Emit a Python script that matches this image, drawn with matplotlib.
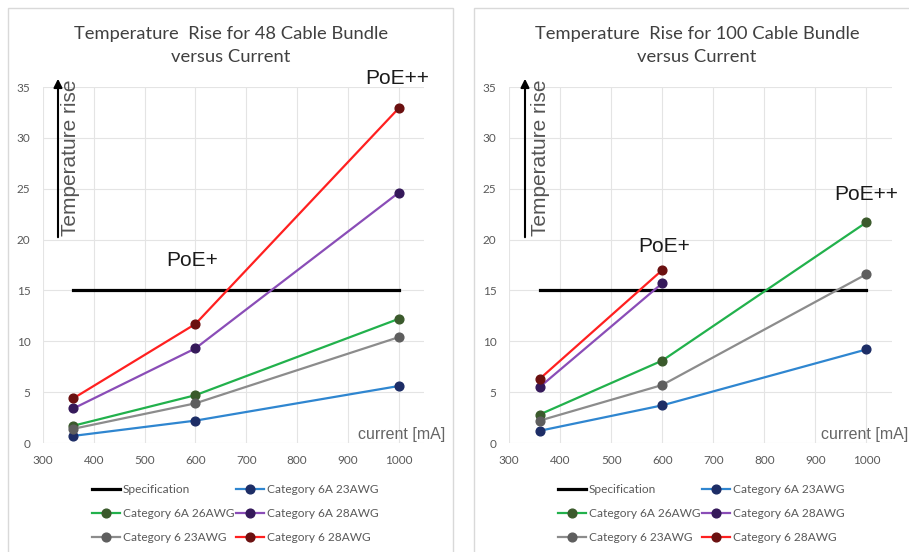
import matplotlib
matplotlib.use("Agg")
import matplotlib.pyplot as plt
from matplotlib.patches import Rectangle, FancyArrowPatch

# ---------------- data ----------------
currents = [360, 600, 1000]
spec_x = [360, 1000]
spec_y = [15, 15]

series_names = ["Category 6A 23AWG", "Category 6A 26AWG", "Category 6A 28AWG",
                "Category 6 23AWG", "Category 6 28AWG"]

b48_cat6a_23 = [0.7, 2.2, 5.6]
b48_cat6a_26 = [1.7, 4.7, 12.2]
b48_cat6a_28 = [3.4, 9.3, 24.6]
b48_cat6_23 = [1.4, 3.9, 10.4]
b48_cat6_28 = [4.4, 11.7, 32.9]

b100_cat6a_23 = [1.2, 3.7, 9.2]
b100_cat6a_26 = [2.8, 8.1, 21.7]
b100_cat6a_28 = [5.5, 15.7]
b100_cat6_23 = [2.2, 5.7, 16.6]
b100_cat6_28 = [6.3, 17.0]

titles = ["Temperature  Rise for 48 Cable Bundle\nversus Current",
          "Temperature  Rise for 100 Cable Bundle\nversus Current"]
x_ticks = [300, 400, 500, 600, 700, 800, 900, 1000]
y_ticks = [0, 5, 10, 15, 20, 25, 30, 35]

line_colors = ["#2f86d0", "#22b14c", "#8a4db7", "#8c8c8c", "#ff2020"]
marker_colors = ["#1d2d66", "#3b5a2c", "#35195a", "#5e5e5e", "#6b1010"]

W, H = 909, 552
fig = plt.figure(figsize=(W / 100, H / 100), dpi=100)
fig.patch.set_facecolor("white")

def fx(px):
    return px / W

def fy(py):
    return 1 - py / H

# panel borders
for (x0, x1) in [(8, 453), (474, 915)]:
    fig.patches.append(Rectangle((fx(x0), fy(560)), fx(x1 - x0), (560 - 8) / H,
                                 transform=fig.transFigure, fill=False,
                                 edgecolor="#d9d9d9", linewidth=1.0))

UI = ["Lato", "DejaVu Sans"]
AR = ["Liberation Sans", "DejaVu Sans"]

panels = [
    dict(left=43, right=424, data=[b48_cat6a_23, b48_cat6a_26, b48_cat6a_28, b48_cat6_23, b48_cat6_28],
         title_x=231, poepp=(397, 79), poep=(192, 261), arrow_x=58, text_x=70,
         cur=(445, 434), leg_x=92),
    dict(left=509, right=892, data=[b100_cat6a_23, b100_cat6a_26, b100_cat6a_28, b100_cat6_23, b100_cat6_28],
         title_x=697, poepp=(866, 195), poep=(664, 246), arrow_x=525, text_x=540,
         cur=(908, 435), leg_x=558),
]

top_px, bot_px = 87, 443

for i, p in enumerate(panels):
    ax = fig.add_axes([fx(p["left"]), fy(bot_px), fx(p["right"] - p["left"]), (bot_px - top_px) / H])
    ax.set_xlim(300, 1050)
    ax.set_ylim(0, 35)
    ax.set_xticks(x_ticks)
    ax.set_yticks(y_ticks)
    ax.grid(True, color="#e4e4e4", linewidth=0.8)
    ax.set_axisbelow(True)
    for s in ax.spines.values():
        s.set_visible(False)
    ax.tick_params(length=0, labelsize=8.5, labelcolor="#595959", pad=9)
    for lab in ax.get_xticklabels() + ax.get_yticklabels():
        lab.set_family(UI)

    handles = []
    h_spec, = ax.plot(spec_x, spec_y, color="black", linewidth=2.3, label="Specification")
    for name, vals, lc, mc in zip(series_names, p["data"], line_colors, marker_colors):
        h, = ax.plot(currents[:len(vals)], vals, color=lc, linewidth=1.6, marker="o",
                     markersize=6.3, markerfacecolor=mc, markeredgecolor=mc, label=name)
        handles.append(h)

    order = [h_spec, handles[1], handles[3], handles[0], handles[2], handles[4]]
    ax.legend(handles=order, labels=[h.get_label() for h in order], ncol=2,
              loc="upper left", bbox_to_anchor=(fx(p["leg_x"]), fy(484)),
              bbox_transform=fig.transFigure, frameon=False, borderpad=0,
              borderaxespad=0, handlelength=2.35, handletextpad=0.22,
              columnspacing=0.15, labelspacing=1.08,
              prop=dict(family=UI, size=8.6), labelcolor="#595959")

    fig.text(fx(p["title_x"]), fy(45.5), titles[i], ha="center", va="center",
             family=UI, fontsize=13.2, color="#404040", linespacing=1.5)

    fig.text(fx(p["poepp"][0]), fy(p["poepp"][1]), "PoE++", ha="center", va="center",
             family=AR, fontsize=15, color="#1a1a1a")
    fig.text(fx(p["poep"][0]), fy(p["poep"][1]), "PoE+", ha="center", va="center",
             family=AR, fontsize=15, color="#1a1a1a")
    fig.text(fx(p["text_x"]), fy(158), "Temperature rise", rotation=90, ha="center",
             va="center", family=AR, fontsize=15, color="#555555")
    fig.text(fx(p["cur"][0]), fy(p["cur"][1]), "current [mA]", ha="right", va="center",
             family=AR, fontsize=11.5, color="#666666")

    arr = FancyArrowPatch((fx(p["arrow_x"]), fy(240)), (fx(p["arrow_x"]), fy(76)),
                          transform=fig.transFigure, arrowstyle="-|>,head_length=5,head_width=2.5",
                          color="black", linewidth=1.5, mutation_scale=1)
    fig.patches.append(arr)

fig.savefig("out.png", dpi=100)
